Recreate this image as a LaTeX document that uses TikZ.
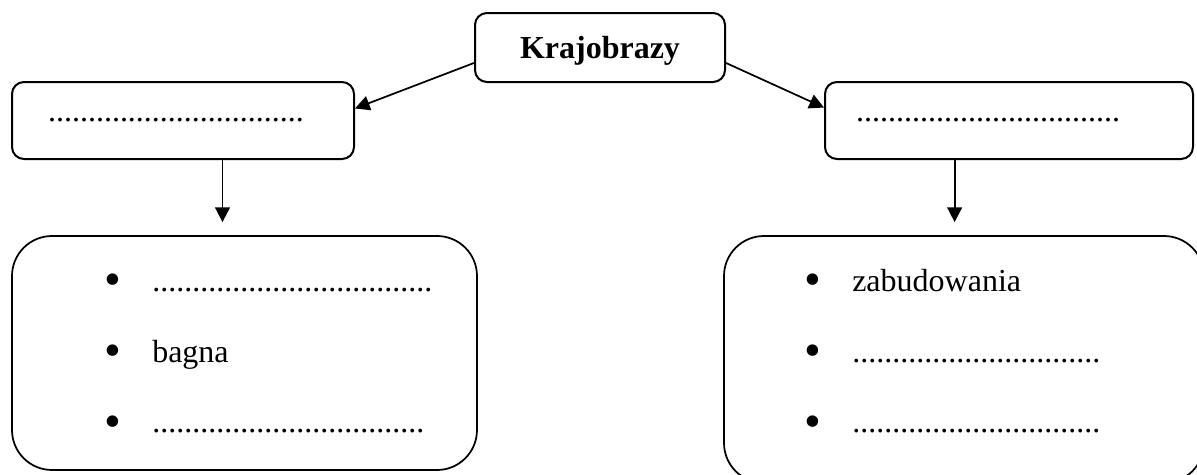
\documentclass[tikz,border=0pt]{standalone}
\usepackage{graphicx}
\usepackage{fontspec}
\setmainfont{Liberation Serif}
\usetikzlibrary{arrows.meta}
\newcommand{\pkt}{\makebox[36.2pt][l]{\raisebox{-0.15em}{\scalebox{1.5}{•}}}}

\begin{document}
\begin{tikzpicture}[x=0.75pt,y=-0.75pt,
  font=\fontsize{24}{28}\selectfont,
  pudelko/.style={draw,line width=1.5pt,rounded corners=9pt,inner sep=0pt},
  lista/.style={draw,line width=1.3pt,rounded corners=30pt,inner sep=0pt},
  pozycja/.style={anchor=base west,inner sep=0pt},
  strzalka/.style={line width=1.3pt,-{Triangle[length=11pt,width=11pt]}}]

  \path[use as bounding box,clip] (0,0) rectangle (1197,475);

  \node[pudelko,minimum width=187.5pt,minimum height=51.75pt,text depth=0pt] at (600,47.5) (kraj) {\textbf{Krajobrazy}};
  \node[pudelko,minimum width=256.5pt,minimum height=57.75pt,text width=202.5pt,inner xsep=27pt,align=left] at (183,120.5) (lewy) {................................};
  \node[pudelko,minimum width=276pt,minimum height=57.75pt,text width=229.5pt,inner xsep=23.25pt,align=left] at (1009,120.5) (prawy) {.................................};

  \node[lista,minimum width=348.75pt,minimum height=175.5pt] at (244.5,353) (llista) {};
  \node[lista,minimum width=360pt,minimum height=185.25pt] at (964,359.5) (plista) {};

  % lewa lista
  \node[pozycja] at (103.75,291) (l1) {\pkt ...................................};
  \node[pozycja] at (103.75,362) (l2) {\pkt bagna};
  \node[pozycja] at (103.75,432.5) (l3) {\pkt ..................................};
  % prawa lista
  \node[pozycja] at (803.75,291) (p1) {\pkt zabudowania};
  \node[pozycja] at (803.75,362) (p2) {\pkt ...............................};
  \node[pozycja] at (803.75,432.5) (p3) {\pkt ...............................};

  \draw[strzalka] (kraj.187) -- (lewy.4);
  \draw[strzalka] (kraj.353) -- (prawy.176);
  \draw[strzalka,shorten >=9.75pt] (lewy.315.4) -- (lewy.315.4 |- llista.north);
  \draw[strzalka,shorten >=9.75pt] (prawy.216.5) -- (prawy.216.5 |- plista.north);

\end{tikzpicture}
\end{document}
